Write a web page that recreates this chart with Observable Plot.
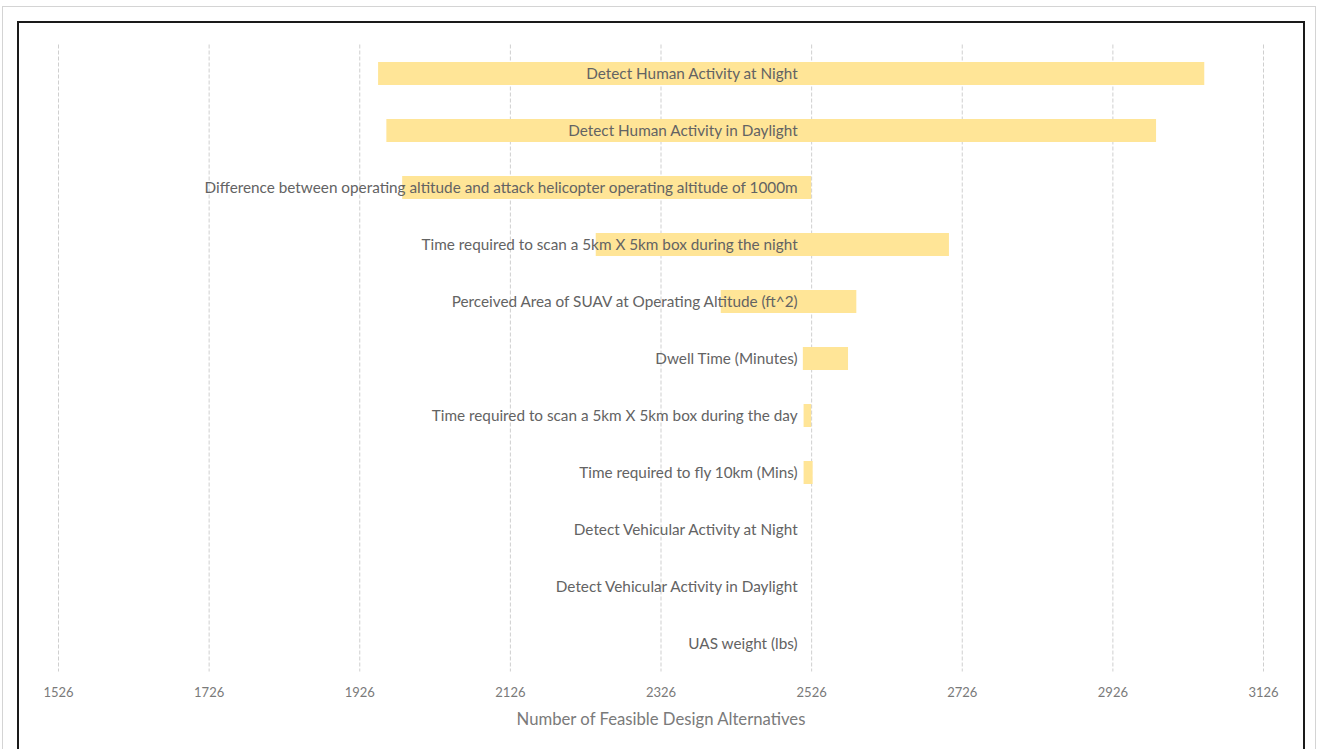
<!DOCTYPE html>
<html>
<head>
<meta charset="utf-8">
<script src="https://cdn.jsdelivr.net/npm/d3@7"></script>
<script src="https://cdn.jsdelivr.net/npm/@observablehq/plot@0.6"></script>
<style>
  html, body { margin: 0; padding: 0; background: #fff; width: 1317px; height: 749px; overflow: hidden; }
  #chart { position: absolute; left: 0; top: 0; }
  .frame-outer { position: absolute; left: 2px; top: 6px; width: 1312px; height: 800px; border: 1px solid #d4d4d4; pointer-events: none; z-index: 2; }
  .frame-inner { position: absolute; left: 17px; top: 21px; width: 1284px; height: 800px; border: 2px solid #1a1a1a; pointer-events: none; z-index: 2; }
</style>
</head>
<body>
<div id="chart"></div>
<div class="frame-outer"></div>
<div class="frame-inner"></div>
<script>
const categories = [
  "Detect Human Activity at Night",
  "Detect Human Activity in Daylight",
  "Difference between operating altitude and attack helicopter operating altitude of 1000m",
  "Time required to scan a 5km X 5km box during the night",
  "Perceived Area of SUAV at Operating Altitude (ft^2)",
  "Dwell Time (Minutes)",
  "Time required to scan a 5km X 5km box during the day",
  "Time required to fly 10km (Mins)",
  "Detect Vehicular Activity at Night",
  "Detect Vehicular Activity in Daylight",
  "UAS weight (lbs)"
];
const lowValues  = [1951, 1962, 1983, 2240, 2406, 2515, 2516, 2516, 2526, 2526, 2526];
const highValues = [3048, 2984, 2526, 2709, 2586, 2575, 2526, 2528, 2526, 2526, 2526];
const baseline = 2526;
const tickValues = [1526, 1726, 1926, 2126, 2326, 2526, 2726, 2926, 3126];
const axisTitle = "Number of Feasible Design Alternatives";

const rows = categories.map((c, i) => ({category: c, low: lowValues[i], high: highValues[i]}));

const chart = Plot.plot({
  width: 1317,
  height: 749,
  marginLeft: 58,
  marginRight: 54,
  marginTop: 44.5,
  marginBottom: 77.5,
  style: {fontFamily: "Lato, 'Open Sans', sans-serif", background: "transparent"},
  x: {domain: [1526, 3126]},
  y: {domain: categories, paddingInner: 0.6, paddingOuter: 0.3, axis: null},
  marks: [
    Plot.ruleX(tickValues, {stroke: "#cfcfcf", strokeWidth: 1, strokeDasharray: "4,2"}),
    Plot.barX(rows.filter(d => d.high > d.low), {x1: "low", x2: "high", y: "category", fill: "#ffe597"}),
    Plot.text(rows, {x: () => baseline, y: "category", text: "category", textAnchor: "end", dx: -14, fill: "#636363", fontSize: 15.3}),
    Plot.axisX({ticks: tickValues, tickSize: 0, tickPadding: 16, tickFormat: d => String(d), fontSize: 13, color: "#7a7a7a", label: null}),
    Plot.text([axisTitle], {frameAnchor: "bottom", dy: 53, text: d => d, fontSize: 16.7, fill: "#7a7a7a"})
  ]
});
document.getElementById("chart").appendChild(chart);
</script>
</body>
</html>
